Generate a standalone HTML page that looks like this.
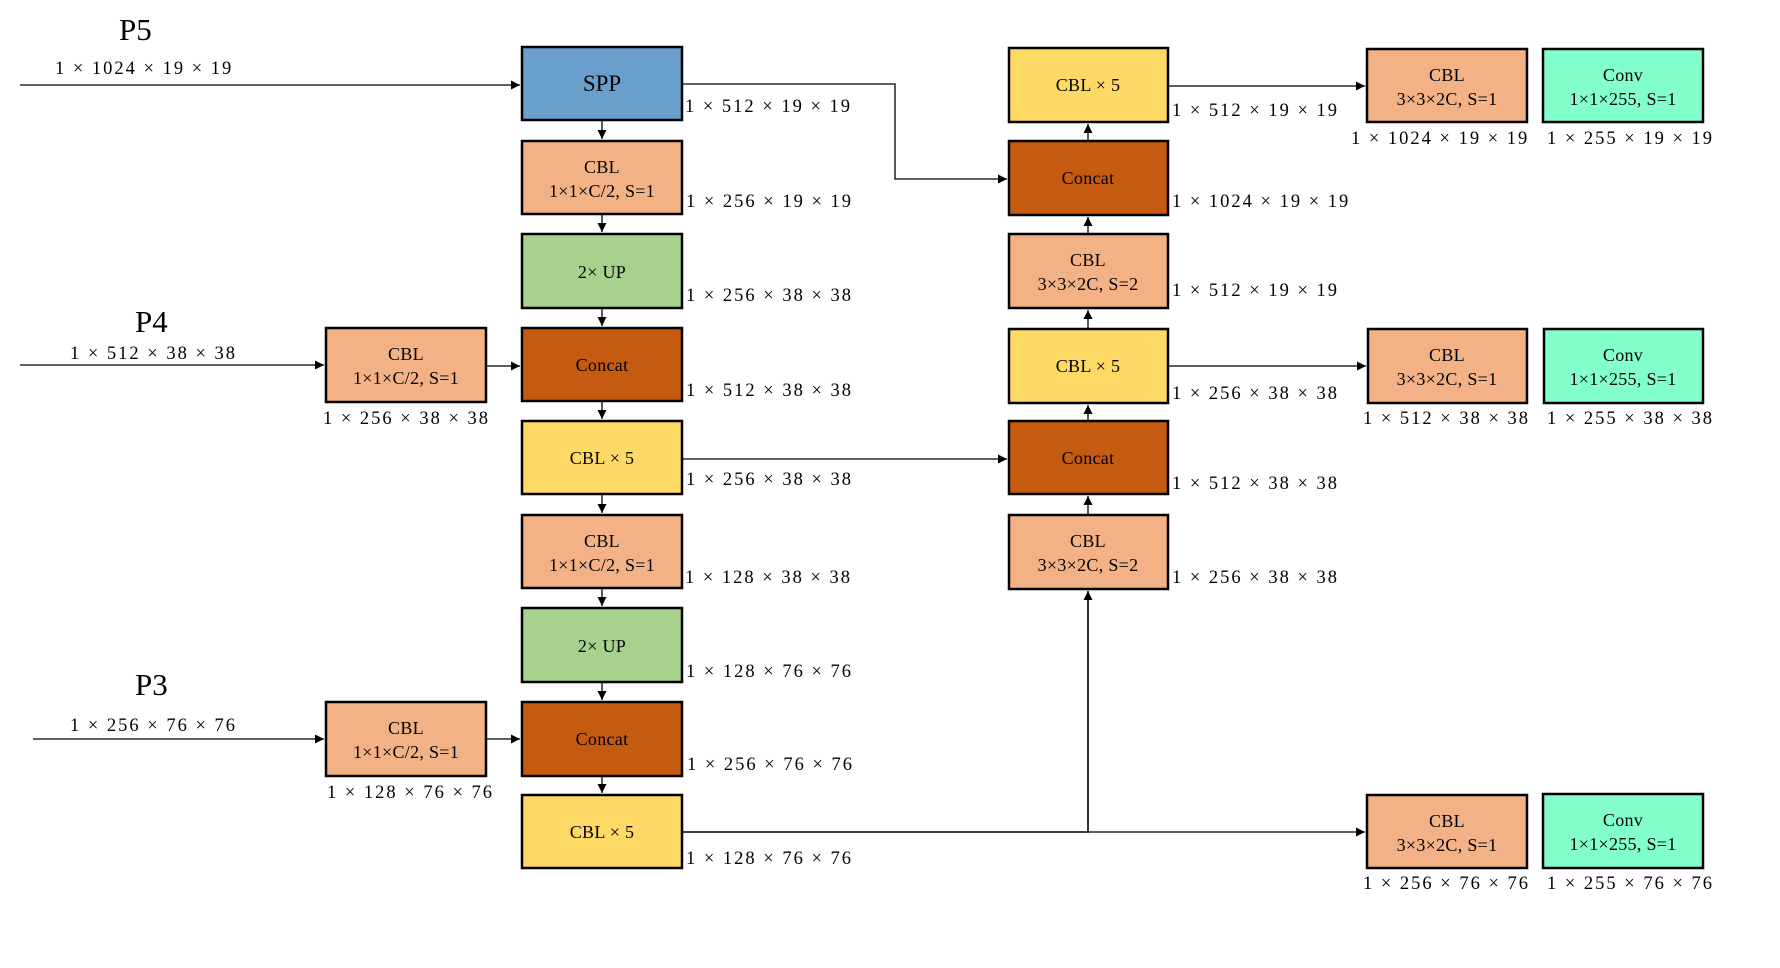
<!DOCTYPE html>
<html><head><meta charset="utf-8"><style>
html,body{margin:0;padding:0;background:#fff;}
svg{display:block;}
text{font-family:"Liberation Serif",serif;fill:#000;}
.b{stroke:#000;stroke-width:2.5;}
.t{font-size:18px;text-anchor:middle;letter-spacing:0.3px;}
.l{font-size:18.5px;letter-spacing:2px;}
.p{font-size:31px;}
.ln{stroke:#000;stroke-width:1.3;fill:none;}
</style></head><body>
<svg width="1780" height="968" viewBox="0 0 1780 968" xmlns="http://www.w3.org/2000/svg">
<defs><marker id="a" viewBox="0 0 10 10" refX="10" refY="5" markerWidth="9" markerHeight="9" markerUnits="userSpaceOnUse" orient="auto"><path d="M0,0L10,5L0,10z" fill="#000"/></marker></defs>

<rect class="b" x="522" y="47" width="160" height="73" fill="#6a9fcc"/><text x="602" y="91" font-size="23" text-anchor="middle">SPP</text>
<rect class="b" x="522" y="141" width="160" height="73" fill="#f3b186"/><text class="t" x="602" y="173">CBL</text><text class="t" x="602" y="197">1×1×C/2, S=1</text>
<rect class="b" x="522" y="234" width="160" height="74" fill="#a9d18e"/><text class="t" x="602" y="278">2× UP</text>
<rect class="b" x="522" y="328" width="160" height="73" fill="#c55a11"/><text class="t" x="602" y="371">Concat</text>
<rect class="b" x="522" y="421" width="160" height="73" fill="#ffd966"/><text class="t" x="602" y="464">CBL × 5</text>
<rect class="b" x="522" y="515" width="160" height="73" fill="#f3b186"/><text class="t" x="602" y="547">CBL</text><text class="t" x="602" y="571">1×1×C/2, S=1</text>
<rect class="b" x="522" y="608" width="160" height="74" fill="#a9d18e"/><text class="t" x="602" y="652">2× UP</text>
<rect class="b" x="522" y="702" width="160" height="74" fill="#c55a11"/><text class="t" x="602" y="745">Concat</text>
<rect class="b" x="522" y="795" width="160" height="73" fill="#ffd966"/><text class="t" x="602" y="838">CBL × 5</text>

<rect class="b" x="326" y="328" width="160" height="74" fill="#f3b186"/><text class="t" x="406" y="360">CBL</text><text class="t" x="406" y="384">1×1×C/2, S=1</text>
<rect class="b" x="326" y="702" width="160" height="74" fill="#f3b186"/><text class="t" x="406" y="734">CBL</text><text class="t" x="406" y="758">1×1×C/2, S=1</text>

<rect class="b" x="1009" y="48" width="159" height="74" fill="#ffd966"/><text class="t" x="1088" y="91">CBL × 5</text>
<rect class="b" x="1009" y="141" width="159" height="74" fill="#c55a11"/><text class="t" x="1088" y="184">Concat</text>
<rect class="b" x="1009" y="234" width="159" height="74" fill="#f3b186"/><text class="t" x="1088" y="266">CBL</text><text class="t" x="1088" y="290">3×3×2C, S=2</text>
<rect class="b" x="1009" y="329" width="159" height="74" fill="#ffd966"/><text class="t" x="1088" y="372">CBL × 5</text>
<rect class="b" x="1009" y="421" width="159" height="73" fill="#c55a11"/><text class="t" x="1088" y="464">Concat</text>
<rect class="b" x="1009" y="515" width="159" height="74" fill="#f3b186"/><text class="t" x="1088" y="547">CBL</text><text class="t" x="1088" y="571">3×3×2C, S=2</text>

<rect class="b" x="1367" y="49" width="160" height="73" fill="#f3b186"/><text class="t" x="1447" y="81">CBL</text><text class="t" x="1447" y="105">3×3×2C, S=1</text>
<rect class="b" x="1543" y="49" width="160" height="73" fill="#82ffcc"/><text class="t" x="1623" y="81">Conv</text><text class="t" x="1623" y="105">1×1×255, S=1</text>
<rect class="b" x="1368" y="329" width="159" height="74" fill="#f3b186"/><text class="t" x="1447" y="361">CBL</text><text class="t" x="1447" y="385">3×3×2C, S=1</text>
<rect class="b" x="1544" y="329" width="159" height="74" fill="#82ffcc"/><text class="t" x="1623" y="361">Conv</text><text class="t" x="1623" y="385">1×1×255, S=1</text>
<rect class="b" x="1367" y="795" width="160" height="73" fill="#f3b186"/><text class="t" x="1447" y="827">CBL</text><text class="t" x="1447" y="851">3×3×2C, S=1</text>
<rect class="b" x="1543" y="794" width="160" height="74" fill="#82ffcc"/><text class="t" x="1623" y="826">Conv</text><text class="t" x="1623" y="850">1×1×255, S=1</text>

<text class="p" x="119" y="40">P5</text>
<text class="p" x="135" y="332">P4</text>
<text class="p" x="135" y="695">P3</text>
<text class="l" x="55" y="74">1 × 1024 × 19 × 19</text>
<text class="l" x="70" y="359">1 × 512 × 38 × 38</text>
<text class="l" x="70" y="731">1 × 256 × 76 × 76</text>

<path class="ln" d="M20,85H520" marker-end="url(#a)"/>
<path class="ln" d="M20,365H324" marker-end="url(#a)"/>
<path class="ln" d="M487,366H520" marker-end="url(#a)"/>
<path class="ln" d="M33,739H324" marker-end="url(#a)"/>
<path class="ln" d="M487,739H520" marker-end="url(#a)"/>
<path class="ln" d="M602,121V139" marker-end="url(#a)"/>
<path class="ln" d="M602,215V232" marker-end="url(#a)"/>
<path class="ln" d="M602,309V326" marker-end="url(#a)"/>
<path class="ln" d="M602,402V419" marker-end="url(#a)"/>
<path class="ln" d="M602,495V513" marker-end="url(#a)"/>
<path class="ln" d="M602,589V606" marker-end="url(#a)"/>
<path class="ln" d="M602,683V700" marker-end="url(#a)"/>
<path class="ln" d="M602,777V793" marker-end="url(#a)"/>
<path class="ln" d="M683,84H895V179H1007" marker-end="url(#a)"/>
<path class="ln" d="M683,459H1007" marker-end="url(#a)"/>
<path class="ln" d="M683,832H1088V591" marker-end="url(#a)" style="stroke-width:1.6"/>
<path class="ln" d="M1088,832H1365" marker-end="url(#a)"/>
<path class="ln" d="M1088,514V496" marker-end="url(#a)"/>
<path class="ln" d="M1088,420V405" marker-end="url(#a)"/>
<path class="ln" d="M1088,328V310" marker-end="url(#a)"/>
<path class="ln" d="M1088,233V217" marker-end="url(#a)"/>
<path class="ln" d="M1088,140V124" marker-end="url(#a)"/>
<path class="ln" d="M1169,86H1365" marker-end="url(#a)"/>
<path class="ln" d="M1169,366H1366" marker-end="url(#a)"/>

<text class="l" x="685" y="112">1 × 512 × 19 × 19</text>
<text class="l" x="686" y="207">1 × 256 × 19 × 19</text>
<text class="l" x="686" y="301">1 × 256 × 38 × 38</text>
<text class="l" x="686" y="396">1 × 512 × 38 × 38</text>
<text class="l" x="686" y="485">1 × 256 × 38 × 38</text>
<text class="l" x="685" y="583">1 × 128 × 38 × 38</text>
<text class="l" x="686" y="677">1 × 128 × 76 × 76</text>
<text class="l" x="687" y="770">1 × 256 × 76 × 76</text>
<text class="l" x="686" y="864">1 × 128 × 76 × 76</text>
<text class="l" x="323" y="424">1 × 256 × 38 × 38</text>
<text class="l" x="327" y="798">1 × 128 × 76 × 76</text>

<text class="l" x="1172" y="116">1 × 512 × 19 × 19</text>
<text class="l" x="1172" y="207">1 × 1024 × 19 × 19</text>
<text class="l" x="1172" y="296">1 × 512 × 19 × 19</text>
<text class="l" x="1172" y="399">1 × 256 × 38 × 38</text>
<text class="l" x="1172" y="489">1 × 512 × 38 × 38</text>
<text class="l" x="1172" y="583">1 × 256 × 38 × 38</text>

<text class="l" x="1351" y="144">1 × 1024 × 19 × 19</text>
<text class="l" x="1547" y="144">1 × 255 × 19 × 19</text>
<text class="l" x="1363" y="424">1 × 512 × 38 × 38</text>
<text class="l" x="1547" y="424">1 × 255 × 38 × 38</text>
<text class="l" x="1363" y="889">1 × 256 × 76 × 76</text>
<text class="l" x="1547" y="889">1 × 255 × 76 × 76</text>
</svg>
</body></html>
